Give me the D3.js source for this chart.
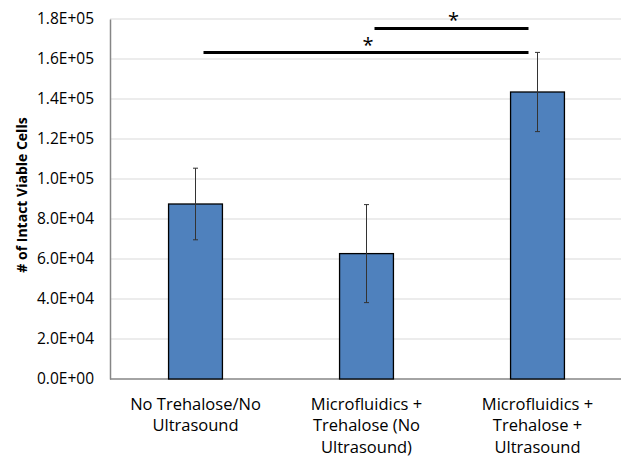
<!DOCTYPE html>
<html>
<head>
<meta charset="utf-8">
<script src="https://cdn.jsdelivr.net/npm/d3@7"></script>
<style>
  body { margin: 0; background: #fff; }
  svg text { font-family: 'Open Sans', sans-serif; fill: #000; }
</style>
</head>
<body>
<div id="chart"></div>
<script>
const categories = [
  ['No Trehalose/No', 'Ultrasound'],
  ['Microfluidics +', 'Trehalose (No', 'Ultrasound)'],
  ['Microfluidics +', 'Trehalose +', 'Ultrasound'],
];
const means = [87500, 62700, 143500];
const errors = [17900, 24500, 19800];
const yTicks = [0, 20000, 40000, 60000, 80000, 100000, 120000, 140000, 160000, 180000];
// significance brackets: from / to category index, level
const sigFrom = [0, 1];
const sigTo = [2, 2];
const sigLevel = [163200, 175300];

const width = 621;
const height = 457;
const margin = { top: 19, right: -2, bottom: 78, left: 110 };
const innerW = width - margin.left - margin.right;
const innerH = height - margin.top - margin.bottom;

const svg = d3
  .select('#chart')
  .append('svg')
  .attr('width', width)
  .attr('height', height);

const g = svg
  .append('g')
  .attr('transform', `translate(${margin.left},${margin.top})`);

const x = d3
  .scaleBand()
  .domain(d3.range(categories.length))
  .range([0, innerW])
  .paddingInner(0.685)
  .paddingOuter(0.3425);

const y = d3.scaleLinear().domain([0, 180000]).range([innerH, 0]);

// Gridlines
g.append('g')
  .selectAll('line')
  .data(yTicks.slice(1))
  .enter()
  .append('line')
  .attr('x1', 0)
  .attr('x2', innerW)
  .attr('y1', (d) => y(d))
  .attr('y2', (d) => y(d))
  .attr('stroke', '#d9d9d9')
  .attr('stroke-width', 1);

// Y axis
const yAxis = g
  .append('g')
  .call(
    d3
      .axisLeft(y)
      .tickValues(yTicks)
      .tickSize(0)
      .tickPadding(16)
      .tickFormat((d) => d.toExponential(1).replace('e', 'E').replace(/E([+-])(\d)$/, 'E$10$2'))
  );
yAxis.select('.domain').attr('stroke', '#868686').attr('stroke-width', 1.5);
yAxis.selectAll('text').style('font-size', '15.5px').attr('fill', '#000');

// X axis line
g.append('line')
  .attr('x1', 0)
  .attr('x2', innerW)
  .attr('y1', innerH)
  .attr('y2', innerH)
  .attr('stroke', '#868686')
  .attr('stroke-width', 1.5);

// Bars
g.selectAll('.bar')
  .data(means)
  .enter()
  .append('rect')
  .attr('class', 'bar')
  .attr('x', (d, i) => x(i))
  .attr('y', (d) => y(d))
  .attr('width', x.bandwidth())
  .attr('height', (d) => innerH - y(d))
  .attr('fill', '#4f81bd')
  .attr('stroke', '#000')
  .attr('stroke-width', 1.3);

// Error bars
const err = g
  .selectAll('.err')
  .data(means)
  .enter()
  .append('g')
  .attr('class', 'err')
  .attr('stroke', '#333')
  .attr('stroke-width', 1);
const cx = (i) => x(i) + x.bandwidth() / 2;
err
  .append('line')
  .attr('x1', (d, i) => cx(i))
  .attr('x2', (d, i) => cx(i))
  .attr('y1', (d, i) => y(d + errors[i]))
  .attr('y2', (d, i) => y(d - errors[i]));
err
  .append('line')
  .attr('x1', (d, i) => cx(i) - 2.5)
  .attr('x2', (d, i) => cx(i) + 2.5)
  .attr('y1', (d, i) => y(d + errors[i]))
  .attr('y2', (d, i) => y(d + errors[i]));
err
  .append('line')
  .attr('x1', (d, i) => cx(i) - 2.5)
  .attr('x2', (d, i) => cx(i) + 2.5)
  .attr('y1', (d, i) => y(d - errors[i]))
  .attr('y2', (d, i) => y(d - errors[i]));

// Significance brackets
sigLevel.forEach((lvl, k) => {
  const x1 = cx(sigFrom[k]) + 8;
  const x2 = cx(sigTo[k]) - 9;
  g.append('line')
    .attr('x1', x1)
    .attr('x2', x2)
    .attr('y1', y(lvl))
    .attr('y2', y(lvl))
    .attr('stroke', '#000')
    .attr('stroke-width', 3);
  g.append('text')
    .attr('x', (x1 + x2) / 2 + 2)
    .attr('y', y(lvl) - 1)
    .attr('text-anchor', 'middle')
    .style('font-size', '20px')
    .text('*');
});

// X labels
categories.forEach((lines, i) => {
  const t = g
    .append('text')
    .attr('x', cx(i))
    .attr('y', innerH + 31)
    .attr('text-anchor', 'middle')
    .style('font-size', '16.5px');
  lines.forEach((line, j) => {
    t.append('tspan')
      .attr('x', cx(i))
      .attr('dy', j === 0 ? 0 : 21.3)
      .text(line);
  });
});

// Y title
svg
  .append('text')
  .attr('transform', `translate(27,195) rotate(-90)`)
  .attr('text-anchor', 'middle')
  .style('font-size', '14px')
  .style('font-weight', 'bold')
  .text('# of Intact Viable Cells');
</script>
</body>
</html>
